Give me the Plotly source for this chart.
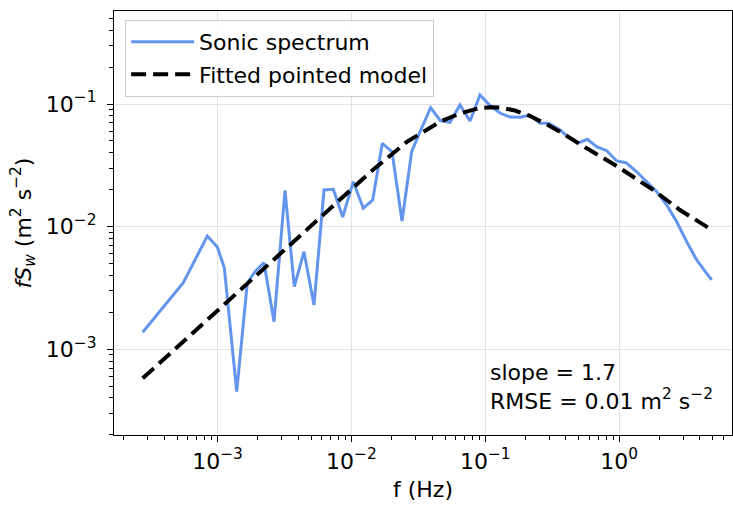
import numpy as np
import plotly.graph_objects as go

# Sonic w-spectrum (frequency in Hz, f*S_w in m^2 s^-2)
freq = [2.763e-4, 3.939e-4, 5.553e-4, 8.39e-4, 9.97e-4, 1.124e-3, 1.391e-3, 1.670e-3,
        1.906e-3, 2.225e-3, 2.642e-3, 3.193e-3, 3.746e-3, 4.426e-3, 5.256e-3, 6.243e-3,
        7.325e-3, 8.610e-3, 1.033e-2, 1.227e-2, 1.443e-2, 1.702e-2, 2.011e-2, 2.387e-2,
        2.820e-2, 3.253e-2, 3.910e-2, 4.613e-2, 5.450e-2, 6.471e-2, 7.686e-2, 9.129e-2,
        0.1084, 0.1288, 0.1529, 0.1816, 0.2157, 0.2562, 0.2990, 0.3614, 0.4182, 0.4865,
        0.5779, 0.6792, 0.8063, 0.9578, 1.124, 1.351, 1.605, 1.906, 2.264, 2.688,
        3.193, 3.792, 4.298, 4.907]
spectrum = [1.373e-3, 2.209e-3, 3.486e-3, 8.38e-3, 6.82e-3, 4.62e-3, 4.50e-4, 3.486e-3,
            4.29e-3, 5.08e-3, 1.676e-3, 1.970e-2, 3.234e-3, 6.24e-3, 2.294e-3, 1.988e-2,
            2.014e-2, 1.198e-2, 2.323e-2, 1.410e-2, 1.648e-2, 4.78e-2, 4.08e-2, 1.111e-2,
            4.08e-2, 5.94e-2, 9.33e-2, 7.33e-2, 7.09e-2, 9.81e-2, 7.27e-2, 0.1184,
            9.72e-2, 8.44e-2, 7.83e-2, 7.79e-2, 8.13e-2, 6.96e-2, 6.96e-2, 6.14e-2, 5.38e-2, 4.78e-2,
            5.15e-2, 4.48e-2, 4.16e-2, 3.43e-2, 3.32e-2, 2.80e-2, 2.32e-2, 1.926e-2, 1.50e-2, 1.096e-2,
            7.53e-3, 5.34e-3, 4.43e-3, 3.67e-3]

# Fitted pointed model, sampled along the frequency axis
model_freq = [2.763e-4, 1.0e-3, 3.193e-3, 1.005e-2, 1.458e-2, 2.588e-2, 4.589e-2, 6.471e-2,
              9.129e-2, 0.1084, 0.1288, 0.1666, 0.2157, 0.2792, 0.3614, 0.5719, 0.9578,
              1.798, 2.846, 4.825]
model_vals = [5.79e-4, 2.049e-3, 6.42e-3, 1.981e-2, 2.922e-2, 4.90e-2, 7.17e-2, 8.37e-2,
              9.28e-2, 9.42e-2, 9.36e-2, 8.85e-2, 7.98e-2, 6.93e-2, 5.94e-2, 4.35e-2, 3.12e-2,
              1.988e-2, 1.366e-2, 9.51e-3]

x_major = [1e-3, 1e-2, 1e-1, 1e0]
x_labels = ["10<sup>\u22123</sup>", "10<sup>\u22122</sup>", "10<sup>\u22121</sup>", "10<sup>0</sup>"]
y_major = [1e-3, 1e-2, 1e-1]
y_labels = ["10<sup>\u22123</sup>", "10<sup>\u22122</sup>", "10<sup>\u22121</sup>"]

x_range = [-3.773, 0.8424]
y_range = [-3.700, -0.2414]


def minor_ticks(lo, hi):
    vals = []
    for d in range(int(np.floor(lo)) - 1, int(np.ceil(hi)) + 1):
        for m in range(2, 10):
            v = m * 10.0 ** d
            if lo <= np.log10(v) <= hi:
                vals.append(v)
    return vals


FONT = "DejaVu Sans"
FS = 22

fig = go.Figure()
fig.add_trace(go.Scatter(x=freq, y=spectrum, mode="lines", name="Sonic spectrum",
                         line=dict(color="#6495ED", width=3), legendgroup="a"))
fig.add_trace(go.Scatter(x=model_freq, y=model_vals, mode="lines", name="Fitted pointed model",
                         line=dict(color="black", width=4, dash="15px,7px"), legendgroup="b"))

axis_common = dict(
    type="log", showline=True, linecolor="black", linewidth=1.3, mirror=True,
    ticks="outside", ticklen=6, tickwidth=1.2, tickcolor="black",
    showgrid=True, gridcolor="#e3e3e3", gridwidth=1, zeroline=False,
    tickfont=dict(family=FONT, size=FS, color="black"),
)

fig.update_xaxes(
    range=x_range, tickmode="array", tickvals=x_major, ticktext=x_labels,
    minor=dict(tickmode="array", tickvals=minor_ticks(*x_range), ticks="outside",
               ticklen=3.5, tickwidth=1, tickcolor="black", showgrid=False),
    title=dict(text="f (Hz)", font=dict(family=FONT, size=FS, color="black"), standoff=9),
    **axis_common,
)
fig.update_yaxes(
    range=y_range, tickmode="array", tickvals=y_major, ticktext=y_labels,
    ticklabelstandoff=6,
    minor=dict(tickmode="array", tickvals=minor_ticks(*y_range), ticks="outside",
               ticklen=3.5, tickwidth=1, tickcolor="black", showgrid=False),
    title=dict(text="<i>fS</i><sub><i>w</i></sub> (m<sup>2</sup> s<sup>\u22122</sup>)",
               font=dict(family=FONT, size=FS, color="black"), standoff=8),
    **axis_common,
)

fig.add_annotation(
    xref="paper", yref="paper", x=0.605, y=0.045, xanchor="left", yanchor="bottom",
    align="left", showarrow=False,
    text="slope = 1.7<br>RMSE = 0.01 m<sup>2</sup> s<sup>\u22122</sup>",
    font=dict(family=FONT, size=FS, color="black"),
)

fig.update_layout(
    width=733, height=506,
    margin=dict(l=114, r=1, t=11, b=71),
    paper_bgcolor="white", plot_bgcolor="white",
    showlegend=True,
    legend=dict(x=0.018, y=0.979, xanchor="left", yanchor="top",
                bgcolor="rgba(255,255,255,0.85)", bordercolor="#cccccc", borderwidth=1,
                font=dict(family=FONT, size=FS, color="black"),
                itemwidth=63, tracegroupgap=1, traceorder="grouped"),
)

fig.write_html("out.html")
